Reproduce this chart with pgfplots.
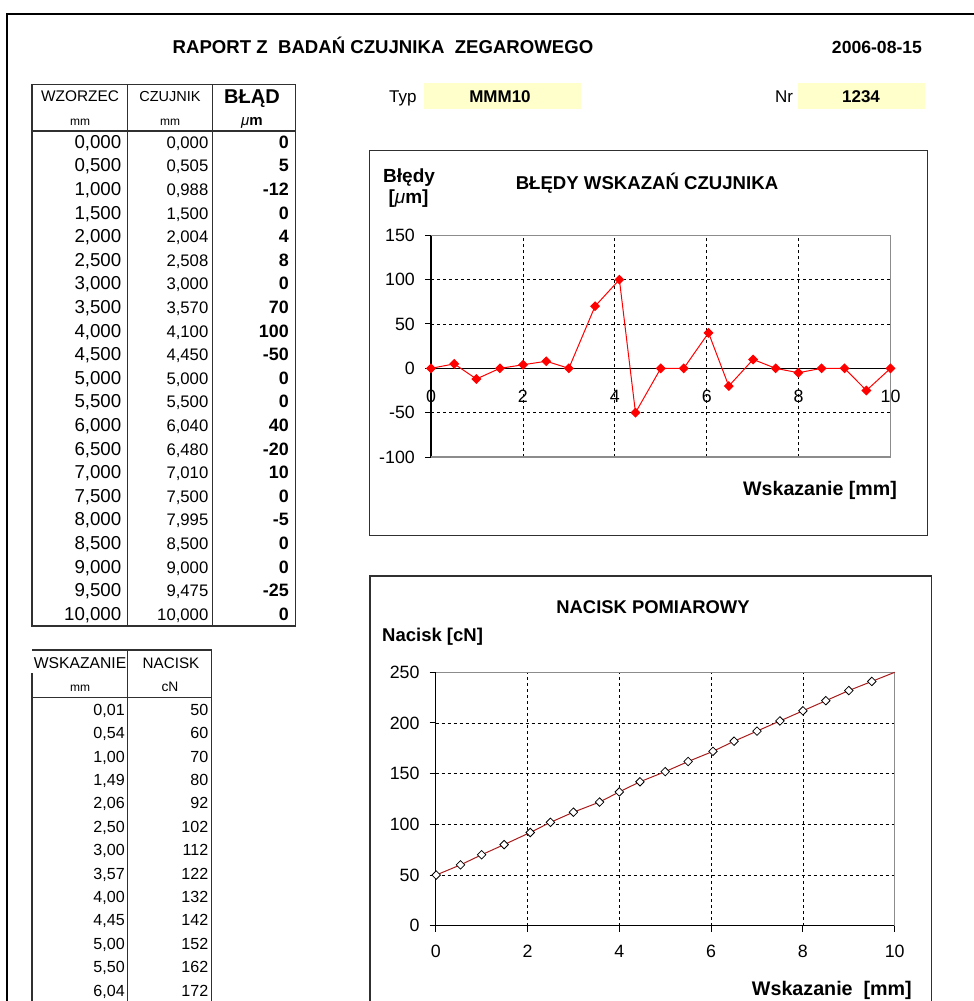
\documentclass[border=0pt]{standalone}
\usepackage{pgfplots}
\pgfplotsset{compat=1.18}
\usepackage{fontspec}
\setmainfont{Liberation Sans}
\newcommand\fs[1]{\fontsize{#1bp}{#1bp}\selectfont}
\definecolor{ylw}{HTML}{FFFFCC}
\definecolor{dred}{HTML}{A81C1C}
\definecolor{bgray}{HTML}{8C8C8C}
\definecolor{frm}{HTML}{303030}
\begin{document}
\begin{tikzpicture}
\begin{scope}[x=1bp,y=-1bp]
\path (0,0) rectangle (974,1001);
% page frame
\draw[line width=2bp] (7,1010) -- (7,14) -- (990,14);
% header
\node[anchor=base,inner sep=0] at (383,53.7) {\fs{18.6}\bfseries RAPORT Z~ BADAŃ CZUJNIKA~ ZEGAROWEGO};
\node[anchor=base,inner sep=0] at (877,53.7) {\fs{17.6}\bfseries 2006-08-15};
\node[anchor=base west,inner sep=0] at (389,102.5) {\fs{17}Typ};
\fill[ylw] (424,83) rectangle (581,108.5);
\node[anchor=base,inner sep=0] at (500,102.5) {\fs{17}\bfseries MMM10};
\node[anchor=base west,inner sep=0] at (775,102.5) {\fs{17}Nr};
\fill[ylw] (798,83) rectangle (925,108.5);
\node[anchor=base,inner sep=0] at (861,102.5) {\fs{17}\bfseries 1234};
% table 1
\draw[frm,line width=1.5bp] (32,84.5) rectangle (295.5,626);
\draw[frm,line width=1bp] (127.7,84.5) -- (127.7,626) (212.3,84.5) -- (212.3,626);
\draw[frm,line width=1.5bp] (32,131) -- (295.5,131);
\node[anchor=base,inner sep=0] at (80,101.5) {\fs{15.4}WZORZEC};
\node[anchor=base,inner sep=0] at (170,101.5) {\fs{14.5}CZUJNIK};
\node[anchor=base,inner sep=0] at (252,103) {\fs{20}\bfseries BŁĄD};
\node[anchor=base,inner sep=0] at (80,125.5) {\fs{12}mm};
\node[anchor=base,inner sep=0] at (170,125.5) {\fs{12}mm};
\node[anchor=base,inner sep=0] at (252,125.5) {\fs{15}{\itshape μ}\bfseries m};
\foreach \a/\b/\c [count=\i from 0] in {{0,000}/{0,000}/0,{0,500}/{0,505}/5,{1,000}/{0,988}/-12,{1,500}/{1,500}/0,{2,000}/{2,004}/4,{2,500}/{2,508}/8,{3,000}/{3,000}/0,{3,500}/{3,570}/70,{4,000}/{4,100}/100,{4,500}/{4,450}/-50,{5,000}/{5,000}/0,{5,500}/{5,500}/0,{6,000}/{6,040}/40,{6,500}/{6,480}/-20,{7,000}/{7,010}/10,{7,500}/{7,500}/0,{8,000}/{7,995}/-5,{8,500}/{8,500}/0,{9,000}/{9,000}/0,{9,500}/{9,475}/-25,{10,000}/{10,000}/0}{
  \pgfmathsetmacro\yy{148.3+23.6*\i}
  \node[anchor=base east,inner sep=0] at (121.5,\yy) {\fs{18.7}\a};
  \node[anchor=base east,inner sep=0] at (208.5,\yy) {\fs{16.7}\b};
  \node[anchor=base east,inner sep=0] at (289,\yy) {\fs{17.9}\bfseries \c};
}
% table 2
\draw[frm,line width=1.5bp] (32,1010) -- (32,673) (32,650) -- (211.5,650) -- (211.5,1010);
\draw[frm,line width=1bp] (127.7,650) -- (127.7,1010);
\draw[frm,line width=1.5bp] (32,697.3) -- (211.5,697.3);
\node[anchor=base,inner sep=0] at (80,668.5) {\fs{15.7}WSKAZANIE};
\node[anchor=base,inner sep=0] at (171,668.5) {\fs{15.2}NACISK};
\node[anchor=base,inner sep=0] at (80,691.5) {\fs{12}mm};
\node[anchor=base,inner sep=0] at (170,691.5) {\fs{13.8}cN};
\foreach \a/\b [count=\i from 0] in {{0,01}/50,{0,54}/60,{1,00}/70,{1,49}/80,{2,06}/92,{2,50}/102,{3,00}/112,{3,57}/122,{4,00}/132,{4,45}/142,{5,00}/152,{5,50}/162,{6,04}/172}{
  \pgfmathsetmacro\yy{715.3+23.4*\i}
  \node[anchor=base east,inner sep=0] at (125,\yy) {\fs{16.1}\a};
  \node[anchor=base east,inner sep=0] at (208.5,\yy) {\fs{16.1}\b};
}
% chart frames
\draw[frm,line width=1.6bp] (369.5,150.5) rectangle (927.5,535.5);
\draw[frm,line width=1.6bp] (370,1010) -- (370,576) -- (931.5,576) -- (931.5,1010);
% chart 1 texts
\node[anchor=base west,inner sep=0] at (383,182.5) {\fs{19}\bfseries Błędy};
\node[anchor=base,inner sep=0] at (408.5,203) {\fs{19}\bfseries [{\mdseries\itshape μ}m]};
\node[anchor=base,inner sep=0] at (647,189) {\fs{18.6}\bfseries BŁĘDY WSKAZAŃ CZUJNIKA};
\node[anchor=base east,inner sep=0] at (897,495) {\fs{19.6}\bfseries Wskazanie [mm]};
% chart 2 texts
\node[anchor=base,inner sep=0] at (653,613.5) {\fs{18.4}\bfseries NACISK POMIAROWY};
\node[anchor=base west,inner sep=0] at (382,641) {\fs{18.5}\bfseries Nacisk [cN]};
\node[anchor=base east,inner sep=0] at (912,995) {\fs{19.7}\bfseries Wskazanie~ [mm]};
\coordinate (C1) at (431,457);
\coordinate (C2) at (435.7,925.7);
\end{scope}

\begin{axis}[at={(C1)}, anchor=south west, scale only axis,
  width=459.5bp, height=221.7bp,
  xmin=0, xmax=10, ymin=-100, ymax=150,
  axis x line*=middle, axis y line*=left,
  hide obscured x ticks=false, hide obscured y ticks=false,
  xtick={0,2,4,6,8,10}, xticklabels={0,2,4,6,8,10},
  ytick={-100,-50,0,50,100,150}, yticklabels={-100,-50,0,50,100,150},
  tick align=outside, major tick length=6bp,
  xtick style={draw=none}, ytick style={black,line width=1bp},
  axis line style={black,line width=1.5bp},
  /pgf/number format/assume math mode=true,
  ticklabel style={font=\fs{17.8},inner sep=0pt},
  xticklabel style={anchor=north,yshift=-16bp},
  yticklabel style={anchor=east,xshift=-10bp},
  grid=major, grid style={black,line width=0.8bp,dash pattern=on 3bp off 3bp},
  clip=false]
\draw[bgray,line width=1.2bp] (axis cs:0,-100) -- (axis cs:10,-100) -- (axis cs:10,150) -- (axis cs:0,150);
\addplot[red,line width=1bp,mark=square*,mark size=3bp,mark options={rotate=45,fill=red,draw=red,solid}] coordinates {
(0,0) (0.505,5) (0.988,-12) (1.5,0) (2.004,4) (2.508,8) (3,0) (3.57,70) (4.1,100) (4.45,-50) (5,0) (5.5,0) (6.04,40) (6.48,-20) (7.01,10) (7.5,0) (7.995,-5) (8.5,0) (9,0) (9.475,-25) (10,0)};
\end{axis}

\begin{axis}[at={(C2)}, anchor=south west, scale only axis,
  width=459bp, height=253.4bp,
  xmin=0, xmax=10, ymin=0, ymax=250,
  axis x line*=bottom, axis y line*=left,
  xtick={0,2,4,6,8,10}, xticklabels={0,2,4,6,8,10},
  ytick={0,50,100,150,200,250}, yticklabels={0,50,100,150,200,250},
  tick align=outside, major tick length=6bp,
  tick style={black,line width=1bp},
  axis line style={black,line width=1.5bp},
  /pgf/number format/assume math mode=true,
  ticklabel style={font=\fs{17.8},inner sep=0pt},
  xticklabel style={anchor=north,yshift=-13bp},
  yticklabel style={anchor=east,xshift=-10bp},
  grid=major, grid style={black,line width=0.8bp,dash pattern=on 3bp off 3bp},
  clip=false]
\draw[bgray,line width=1.2bp] (axis cs:10,0) -- (axis cs:10,250) -- (axis cs:0,250);
\addplot[dred,line width=1bp,no marks] coordinates {
(0.01,50) (0.54,60) (1.00,70) (1.49,80) (2.06,92) (2.50,102) (3.00,112) (3.57,122) (4.00,132) (4.45,142) (5.00,152) (5.50,162) (6.04,172) (6.50,182) (7.00,192) (7.50,202) (8.00,212) (8.50,222) (9.00,232) (9.50,241) (10,250)};
\addplot[only marks,mark=square*,mark size=3bp,mark options={rotate=45,fill=white,draw=black,line width=0.8bp}] coordinates {
(0.01,50) (0.54,60) (1.00,70) (1.49,80) (2.06,92) (2.50,102) (3.00,112) (3.57,122) (4.00,132) (4.45,142) (5.00,152) (5.50,162) (6.04,172) (6.50,182) (7.00,192) (7.50,202) (8.00,212) (8.50,222) (9.00,232) (9.50,241)};
\end{axis}

\pgfresetboundingbox
\begin{scope}[x=1bp,y=-1bp]
\path[use as bounding box] (0,0) rectangle (974,1001);
\end{scope}
\end{tikzpicture}
\end{document}
